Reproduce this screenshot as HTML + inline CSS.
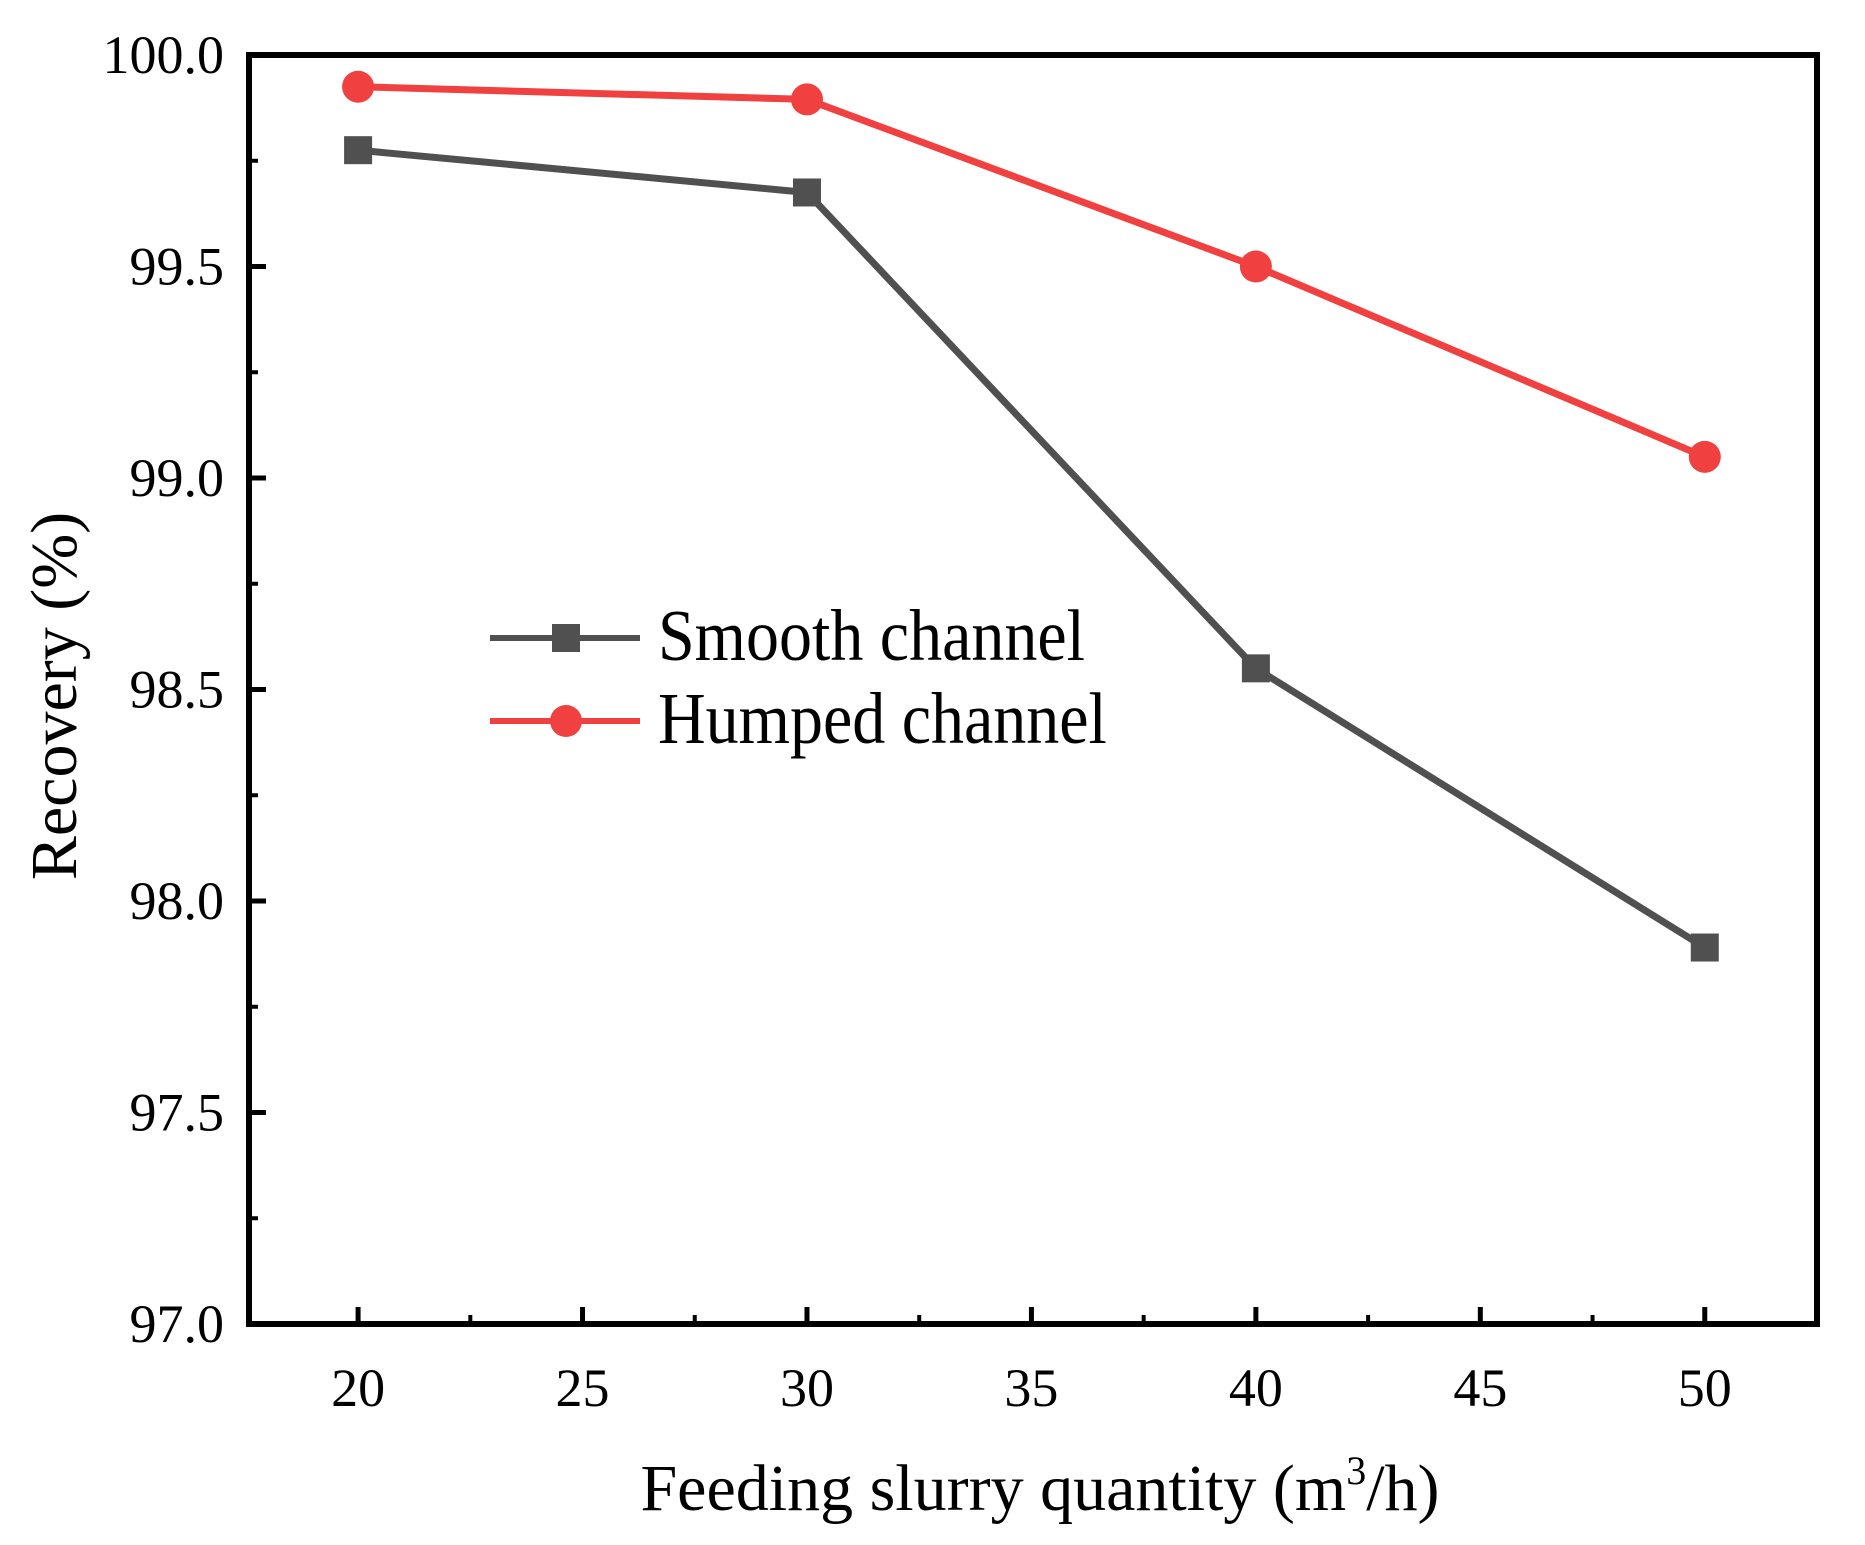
<!DOCTYPE html>
<html><head><meta charset="utf-8"><style>
html,body{margin:0;padding:0;background:#fff}
svg{display:block}
text{font-family:"Liberation Serif",serif;fill:#000}
</style></head><body>
<svg id="chart" width="1865" height="1545" viewBox="0 0 1865 1545">
<g id="grid-layer"></g>
<g id="series-layer"></g>
<g>
 <line x1="490" y1="638" x2="640" y2="638" stroke="#505050" stroke-width="6"/>
 <rect x="552" y="624" width="28" height="28" fill="#505050"/>
 <text x="658" y="660" font-size="66" transform="translate(0,-66) scale(1,1.1)">Smooth channel</text>
 <line x1="490" y1="721" x2="640" y2="721" stroke="#f04040" stroke-width="6"/>
 <circle cx="566" cy="721" r="16" fill="#f04040"/>
 <text x="658" y="743" font-size="66" transform="translate(0,-74.3) scale(1,1.1)">Humped channel</text>
</g>
<text x="1040" y="1510" font-size="66" text-anchor="middle">Feeding slurry quantity (m<tspan dy="-26" font-size="40">3</tspan><tspan dy="26">/h)</tspan></text>
<text transform="translate(76,696) rotate(-90)" font-size="66" text-anchor="middle">Recovery (%)</text>
</svg>
<script>
const xCats = [20, 30, 40, 50];
const smooth = [99.775, 99.675, 98.55, 97.89];
const humped = [99.925, 99.895, 99.5, 99.05];
const xTicks = [20, 25, 30, 35, 40, 45, 50];
const yTicks = [97.0, 97.5, 98.0, 98.5, 99.0, 99.5, 100.0];
const L=249,R=1817,T=55,B=1324, X0=17.57,X1=52.5, Y0=97,Y1=100;
const sx=v=>L+(v-X0)/(X1-X0)*(R-L);
const sy=v=>B-(v-Y0)/(Y1-Y0)*(B-T);
const NS="http://www.w3.org/2000/svg";
const g=document.getElementById('grid-layer'), s=document.getElementById('series-layer');
function mk(tag,attrs,parent){const e=document.createElementNS(NS,tag);for(const k in attrs)e.setAttribute(k,attrs[k]);parent.appendChild(e);return e;}
const frame=mk('rect',{x:L,y:T,width:R-L,height:B-T,fill:'none',stroke:'#000','stroke-width':6},g);


xTicks.forEach((v,i)=>{
 const x=sx(v);
 const t=mk('line',{x1:x,y1:B,x2:x,y2:B-17,stroke:'#000','stroke-width':5},g);
 
 
 if(i<xTicks.length-1){const m=mk('line',{x1:sx(v+2.5),y1:B,x2:sx(v+2.5),y2:B-9,stroke:'#000','stroke-width':4},g);
 
 }
 const lb=mk('text',{x:x,y:1406,'font-size':54,'text-anchor':'middle'},g);lb.textContent=v;
 
 
});
yTicks.forEach((v,i)=>{
 const y=sy(v);
 const t=mk('line',{x1:L,y1:y,x2:L+17,y2:y,stroke:'#000','stroke-width':5},g);
 
 
 if(i<yTicks.length-1){const m=mk('line',{x1:L,y1:sy(v+0.25),x2:L+9,y2:sy(v+0.25),stroke:'#000','stroke-width':4},g);
 
 }
 const lb=mk('text',{x:224,y:y+18,'font-size':54,'text-anchor':'end'},g);lb.textContent=v.toFixed(1);
 
 
});
function series(vals,color,name,square){
 const p=mk('polyline',{points:vals.map((v,i)=>sx(xCats[i])+','+sy(v)).join(' '),fill:'none',stroke:color,'stroke-width':7},s);
 
 
 vals.forEach((v,i)=>{
  let m;
  if(square) m=mk('rect',{x:sx(xCats[i])-14,y:sy(v)-14,width:28,height:28,fill:color},s);
  else m=mk('circle',{cx:sx(xCats[i]),cy:sy(v),r:16,fill:color},s);
  
  
 });
}
series(smooth,'#505050','smooth',true);
series(humped,'#f04040','humped',false);
</script>
</body></html>
